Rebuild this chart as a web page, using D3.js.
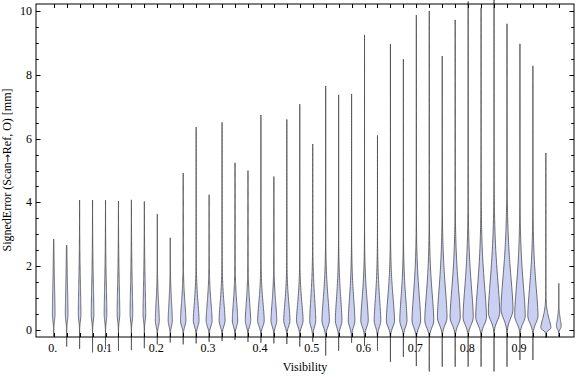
<!DOCTYPE html>
<html>
<head>
<meta charset="utf-8">
<script src="https://cdn.jsdelivr.net/npm/d3@7"></script>
<style>
body { margin: 0; background: #fff; }
text { font-family: "Liberation Serif", "DejaVu Serif", serif; fill: #000; }
</style>
</head>
<body>
<svg id="chart"></svg>
<script>

//visibility bins, one violin each (0 to 0.975 in steps of 0.025)//
var visibility = d3.range(40).map(function(i){ return +(i * 0.025).toFixed(3); });

//smallest and largest signed error in each bin [mm]//
var minVals = [-0.2,-0.52,-0.59,-0.7,-0.6,-0.65,-0.63,-0.57,-0.45,-0.39,
               -0.45,-0.42,-0.37,-0.34,-0.31,-0.37,-0.4,-0.42,-0.44,-0.52,
               -0.37,-0.8,-0.65,-0.4,-0.5,-0.65,-1.0,-0.84,-1.13,-1.3,
               -1.15,-1.15,-1.15,-1.15,-1.3,-1.15,-0.94,-0.94,-0.25,-0.2];

var maxVals = [2.85,2.66,4.07,4.07,4.07,4.04,4.08,4.03,3.63,2.89,
               4.92,6.36,4.24,6.51,5.24,5.0,6.74,4.81,6.6,7.08,
               5.83,7.65,7.37,7.4,9.25,6.1,8.96,8.49,9.87,10.0,
               8.59,9.72,10.3,10.1,10.6,9.6,8.97,8.28,5.55,1.46];

//where the density peaks, how high it peaks (relative), and how far it spreads up / down//
var modeVals = [0.5,0.5,0.5,0.5,0.5,0.5,0.5,0.5,0.3,0.3,
                0.3,0.3,0.3,0.3,0.3,0.3,0.3,0.3,0.3,0.3,
                0.3,0.3,0.3,0.3,0.3,0.3,0.3,0.3,0.3,0.3,
                0.4,0.4,0.4,0.4,0.55,0.65,0.45,0.45,0.07,0.12];

var peakVals = [0.22,0.22,0.22,0.22,0.22,0.22,0.22,0.22,0.33,0.35,
                0.45,0.48,0.5,0.5,0.45,0.45,0.55,0.48,0.52,0.55,
                0.5,0.62,0.55,0.55,0.62,0.55,0.68,0.6,0.72,0.75,
                0.8,0.85,0.85,0.9,0.95,1.0,0.88,0.85,0.85,0.4];

var upSpread = [1.5,1.5,1.5,1.5,1.5,1.5,1.5,1.5,0.9,0.9,
                0.9,0.9,0.9,0.9,0.9,0.9,0.9,0.9,0.9,0.9,
                1.15,1.15,1.15,1.15,1.15,1.15,1.2,1.2,1.4,1.4,
                1.55,1.55,1.6,1.65,1.75,1.75,1.6,1.5,0.45,0.35];

var lowSpread = [0.3,0.3,0.3,0.3,0.3,0.3,0.3,0.3,0.25,0.25,
                 0.25,0.25,0.25,0.25,0.25,0.25,0.25,0.25,0.25,0.25,
                 0.28,0.28,0.28,0.28,0.28,0.28,0.28,0.28,0.3,0.3,
                 0.32,0.32,0.32,0.32,0.35,0.4,0.32,0.32,0.1,0.12];

//tick labels//
var xTickVals = [0,0.1,0.2,0.3,0.4,0.5,0.6,0.7,0.8,0.9];
var xTickLabels = ["0.","0.1","0.2","0.3","0.4","0.5","0.6","0.7","0.8","0.9"];
var yTickVals = [0,2,4,6,8,10];

var screen = {width: 576, height: 377};
var frame = {left: 36, right: 574, top: 4, bottom: 337};

var svg = d3.select("#chart")
            .attr("width", screen.width)
            .attr("height", screen.height);

var xScale = d3.scaleLinear()
               .domain([0, 0.975])
               .range([53.7, 558.8]);

var yScale = d3.scaleLinear()
               .domain([0, 10])
               .range([330, 11]);

//relative density -> half width in px//
var wScale = d3.scaleLinear()
               .domain([0, 1])
               .range([0, 6]);

var violins = visibility.map(function(v, i)
              {
              return {v: v, min: minVals[i], max: maxVals[i], mode: modeVals[i],
                      peak: peakVals[i], up: upSpread[i], low: lowSpread[i]};
              });

//outline of one violin, sampled along the error axis//
var profile = function(d)
              {
              var n = 160;
              var pts = [];
              for (var k = 0; k <= n; k++)
                  {
                  var e = d.min + (d.max - d.min) * k / n;
                  var h;
                  if (e >= d.mode) h = d.peak * Math.exp(-Math.pow((e - d.mode) / d.up, 1.6));
                  else h = d.peak * Math.exp(-Math.pow((d.mode - e) / d.low, 2));
                  if (k == 0 || k == n) h = 0;
                  pts.push({e: e, h: h});
                  }
              return pts;
              }

var area = d3.area()
             .y(function(p){ return yScale(p.e); })
             .curve(d3.curveLinear);

svg.append("g")
   .attr("id","violins")
   .selectAll("path")
   .data(violins)
   .enter()
   .append("path")
   .attr("d", function(d)
         {
         var cx = xScale(d.v);
         area.x0(function(p){ return cx - wScale(p.h); })
             .x1(function(p){ return cx + wScale(p.h); });
         return area(profile(d));
         })
   .attr("fill","#cad0f4")
   .attr("stroke","#4a4a4a")
   .attr("stroke-width",0.8)
   .attr("stroke-linejoin","round");

//frame//
svg.append("rect")
   .attr("x", frame.left)
   .attr("y", frame.top)
   .attr("width", frame.right - frame.left)
   .attr("height", frame.bottom - frame.top)
   .attr("fill","none")
   .attr("stroke","#000")
   .attr("stroke-width",1);

var yMinor = d3.range(0, 10.01, 0.5);

//left and right ticks pointing inward//
var ticks = svg.append("g").attr("stroke","#000").attr("stroke-width",1);

yMinor.forEach(function(t)
       {
       var len = (t % 2 == 0) ? 4.5 : 2.8;
       var y = Math.round(yScale(t)) + 0.5;
       ticks.append("line").attr("x1",frame.left).attr("x2",frame.left + len).attr("y1",y).attr("y2",y);
       ticks.append("line").attr("x1",frame.right).attr("x2",frame.right - len).attr("y1",y).attr("y2",y);
       });

//top and bottom ticks at every bin//
visibility.forEach(function(v)
           {
           var x = Math.round(xScale(v)) + 0.5;
           ticks.append("line").attr("x1",x).attr("x2",x).attr("y1",frame.top).attr("y2",frame.top + 4);
           ticks.append("line").attr("x1",x).attr("x2",x).attr("y1",frame.bottom).attr("y2",frame.bottom - 4);
           });

//tick labels//
svg.append("g")
   .selectAll("text")
   .data(xTickVals)
   .enter()
   .append("text")
   .attr("x", function(t){ return xScale(t) - 1; })
   .attr("y", 352)
   .attr("text-anchor","middle")
   .style("font-size","12px")
   .text(function(t, i){ return xTickLabels[i]; });

svg.append("g")
   .selectAll("text")
   .data(yTickVals)
   .enter()
   .append("text")
   .attr("x", 32)
   .attr("y", function(t){ return yScale(t) + 4; })
   .attr("text-anchor","end")
   .style("font-size","12px")
   .text(function(t){ return t; });

//axis titles//
svg.append("text")
   .attr("x", 305)
   .attr("y", 371)
   .attr("text-anchor","middle")
   .style("font-size","12px")
   .text("Visibility");

var yTitle = svg.append("text")
                .attr("transform","translate(11,170) rotate(-90)")
                .attr("text-anchor","middle")
                .style("font-size","12px");

yTitle.append("tspan").text("SignedError (Scan");
yTitle.append("tspan").style("font-family","'DejaVu Sans'").style("font-size","10px").text("\u2192");
yTitle.append("tspan").text("Ref, O) [mm]");

</script>
</body>
</html>
